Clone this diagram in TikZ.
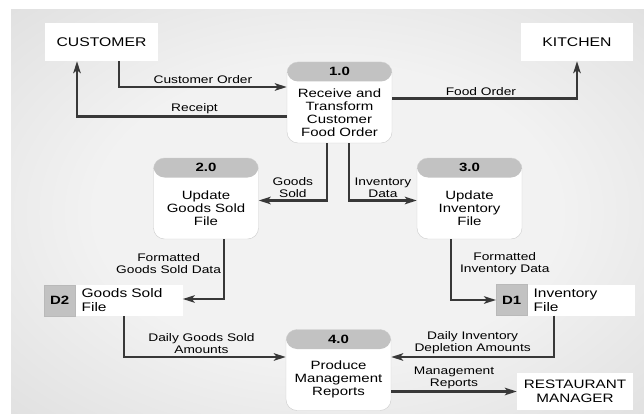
\documentclass[tikz,border=0pt]{standalone}
\usepackage{fontspec}
\setmainfont[FakeStretch=1.25]{Liberation Sans}
\usetikzlibrary{arrows.meta, calc, positioning}
\definecolor{bgLight}{gray}{0.95}
\definecolor{bgDark}{gray}{0.74}
\definecolor{hdrGray}{gray}{0.76}
\definecolor{flowGray}{gray}{0.22}
\pgfdeclareradialshading{dfdBack}{\pgfpoint{0bp}{0bp}}{color(0bp)=(bgLight); color(18bp)=(bgLight); color(72bp)=(bgDark)}
\tikzset{
    entity/.style={rectangle, fill=white, minimum height=38pt, align=center, font=\fontsize{12.6}{14}\selectfont},
    procBody/.style={rectangle, rounded corners=11pt, fill=white, draw=gray!40, thin, minimum width=105pt, minimum height=81pt,
        path picture={\fill[hdrGray] (path picture bounding box.north west) rectangle ([yshift=-19.5pt]path picture bounding box.north east);}},
    procNum/.style={font=\bfseries\fontsize{12}{13}\selectfont, inner sep=0pt},
    procText/.style={align=center, font=\fontsize{12}{13}\selectfont, inner sep=0pt},
    storeId/.style={rectangle, fill=hdrGray, draw=gray!55, thin, minimum width=31pt, minimum height=31pt, inner sep=0pt, font=\bfseries\fontsize{12}{13}\selectfont},
    storeName/.style={rectangle, fill=white, minimum height=31pt, text width=95pt, inner xsep=6pt, inner ysep=0pt, align=left, font=\fontsize{12.4}{14}\selectfont},
    flow/.style={->, >={Stealth[length=12pt, width=7.5pt, inset=3pt]}, line width=2.1pt, draw=flowGray},
    flowLabel/.style={align=center, inner sep=2pt, font=\fontsize{11}{12}\selectfont},
}
\newcommand{\procBox}[4]{
    % rounded box, grey header with the number, text below
    \node[procBody] (#1) at (#2) {};
    \node[procNum] (#1num) at ([yshift=-9.75pt]#1.north) {#3};
    \node[procText] (#1txt) at ($(#1.south)!0.5!([yshift=-19.5pt]#1.north)$) {#4};
}
\newcommand{\dataStore}[4]{
    % grey id cell, white name cell right of it
    \node[storeId, anchor=west] (#1id) at (#2) {#3};
    \node[storeName, anchor=west] (#1) at (#1id.east) {#4};
}

\begin{document}
\begin{tikzpicture}[x=1pt, y=-1pt]

    \useasboundingbox (0,0) rectangle (644,414);
    \fill[white] (0,0) rectangle (644,414);
    \shade[shading=dfdBack] (11,10) rectangle (644,414);

    % external entities
    \node[entity, minimum width=113pt] (cust) at (101.5,42) {CUSTOMER};
    \node[entity, minimum width=112pt] (kitch) at (577,42) {KITCHEN};
    \node[entity, minimum width=116pt, minimum height=37pt, font=\fontsize{12.2}{14}\selectfont] (mgr) at (575,391.5) {RESTAURANT\\MANAGER};

    % processes
    \procBox{p1}{339.5,102.5}{1.0}{Receive and\\Transform\\Customer\\Food Order}
    \procBox{p2}{206,198.5}{2.0}{Update\\Goods Sold\\File}
    \procBox{p3}{469.5,198.5}{3.0}{Update\\Inventory\\File}
    \procBox{p4}{338.5,370}{4.0}{Produce\\Management\\Reports}

    % data stores
    \dataStore{d2}{44,300.5}{D2}{Goods Sold\\File}
    \dataStore{d1}{496,300}{D1}{Inventory\\File}

    % data flows
    \draw[flow] ([xshift=17.5pt]cust.south) |- node[flowLabel, above, pos=0.75] {Customer Order} ([yshift=15.5pt]p1.west);
    \draw[flow] ([yshift=-14pt]p1.west) -| node[flowLabel, above, pos=0.22] {Receipt} ([xshift=-24.5pt]cust.south);
    \draw[flow] ([yshift=4pt]p1.east) -| node[flowLabel, above, pos=0.24] {Food Order} (kitch.south);
    \draw[flow] ([xshift=-12.5pt]p1.south) |- node[flowLabel, above, pos=0.75] {Goods\\Sold} ([yshift=-2pt]p2.east);
    \draw[flow] ([xshift=9.5pt]p1.south) |- node[flowLabel, above, pos=0.75] {Inventory\\Data} ([yshift=-2pt]p3.west);
    \draw[flow] ([xshift=18pt]p2.south) |- node[flowLabel, left, pos=0.2] {Formatted\\Goods Sold Data} ([yshift=1.5pt]d2.east);
    \draw[flow] ([xshift=-18.5pt]p3.south) |- node[flowLabel, right, pos=0.2, xshift=6pt] {Formatted\\Inventory Data} (d1id.west);
    \draw[flow] ([xshift=-5.5pt]d2.south) |- node[flowLabel, above, pos=0.74] {Daily Goods Sold\\Amounts} ([yshift=13pt]p4.west);
    \draw[flow] ([xshift=-27pt]d1.south) |- node[flowLabel, above, pos=0.75] {Daily Inventory\\Depletion Amounts} ([yshift=13pt]p4.east);
    \draw[flow] ([yshift=-21.5pt]p4.east) -- node[flowLabel, above] {Management\\Reports} (mgr.west);

\end{tikzpicture}
\end{document}
